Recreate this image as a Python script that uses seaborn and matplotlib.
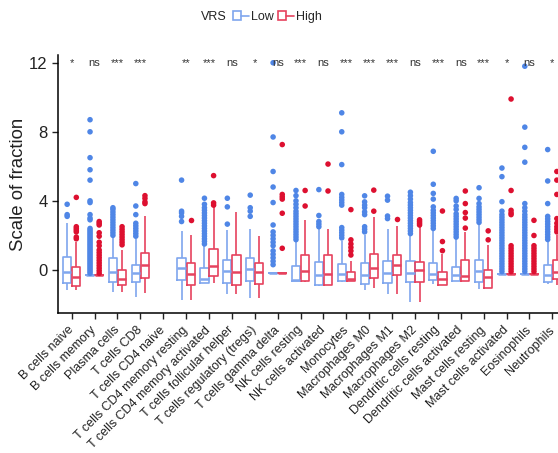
import numpy as np
import pandas as pd
import matplotlib
matplotlib.use("Agg")
import matplotlib.pyplot as plt
from matplotlib.patches import Patch
from matplotlib.lines import Line2D
from matplotlib.legend_handler import HandlerTuple
import seaborn as sns

cells = ["B cells naive", "B cells memory", "Plasma cells", "T cells CD8",
         "T cells CD4 naive", "T cells CD4 memory resting",
         "T cells CD4 memory activated", "T cells follicular helper",
         "T cells regulatory (tregs)", "T cells gamma delta", "NK cells resting",
         "NK cells activated", "Monocytes", "Macrophages M0", "Macrophages M1",
         "Macrophages M2", "Dendritic cells resting", "Dendritic cells activated",
         "Mast cells resting", "Mast cells activated", "Eosinophils", "Neutrophils"]
sig = ["*", "ns", "***", "***", "", "**", "***", "ns", "*", "ns", "***",
       "ns", "***", "***", "***", "ns", "***", "ns", "***", "*", "ns", "*"]

# (lower whisker, q1, median, q3, upper whisker)
low_box = [(-1.19, -0.76, -0.12, 0.76, 2.71), (-0.31, -0.31, -0.31, -0.31, -0.31),
           (-1.29, -0.70, -0.12, 0.66, 1.90), (-1.56, -0.70, -0.21, 0.31, 1.80),
           None, (-1.76, -0.59, 0.08, 0.66, 2.24),
           (-0.74, -0.74, -0.51, 0.12, 1.40), (-1.42, -0.74, -0.06, 0.57, 2.30),
           (-1.62, -0.64, 0.04, 0.66, 2.34), (-0.16, -0.16, -0.16, -0.16, -0.16),
           (-0.64, -0.64, -0.60, 0.25, 1.60), (-0.95, -0.88, -0.29, 0.47, 2.38),
           (-0.70, -0.64, -0.23, 0.33, 1.70), (-1.19, -0.80, -0.29, 0.37, 2.00),
           (-1.39, -0.78, -0.21, 0.49, 2.38), (-1.87, -0.68, -0.16, 0.49, 2.00),
           (-0.84, -0.59, -0.23, 0.39, 2.28), (-0.64, -0.64, -0.31, 0.18, 1.80),
           (-1.09, -0.68, -0.06, 0.59, 2.60), (-0.23, -0.23, -0.23, -0.23, -0.23),
           (-0.23, -0.23, -0.23, -0.23, -0.23), (-0.84, -0.68, -0.29, 0.31, 1.60)]
high_box = [(-1.19, -0.94, -0.43, 0.16, 1.60), (-0.31, -0.31, -0.31, -0.31, -0.31),
            (-1.29, -0.88, -0.51, 0.00, 1.17), (-1.33, -0.49, 0.29, 0.98, 3.10),
            None, (-1.76, -0.88, -0.25, 0.41, 2.03),
            (-0.74, -0.35, 0.20, 1.21, 3.65), (-1.42, -0.88, -0.10, 0.86, 3.36),
            (-1.62, -0.84, -0.12, 0.37, 1.99), (-0.16, -0.16, -0.16, -0.16, -0.16),
            (-0.70, -0.64, -0.08, 0.88, 2.87), (-0.88, -0.88, -0.23, 0.88, 2.38),
            (-0.64, -0.64, -0.55, -0.12, 0.50), (-1.03, -0.49, 0.08, 0.94, 3.06),
            (-1.39, -0.29, 0.29, 0.88, 2.54), (-1.87, -0.70, 0.00, 0.47, 2.48),
            (-0.88, -0.88, -0.55, -0.12, 0.90), (-0.64, -0.64, -0.35, 0.57, 2.19),
            (-1.03, -1.03, -0.41, 0.02, 1.45), (-0.23, -0.23, -0.23, -0.23, -0.23),
            (-0.23, -0.23, -0.23, -0.23, -0.23), (-0.90, -0.55, -0.12, 0.59, 2.00)]

low_out = [
    [3.1, 3.2, 3.8],
    [-0.2, -0.1, 0.0, 0.1, 0.2, 0.3, 0.4, 0.5, 0.6, 0.7, 0.8, 0.9, 1.0, 1.1, 1.2, 1.3,
     1.4, 1.5, 1.6, 1.7, 1.8, 1.9, 2.0, 2.1, 2.2, 2.3, 2.4, 2.9, 3.0, 3.2, 3.9, 4.0,
     5.2, 5.8, 6.5, 8.0, 8.7],
    [2.0, 2.15, 2.3, 2.45, 2.6, 2.75, 2.9, 3.05, 3.2, 3.35, 3.5, 3.6],
    [1.95, 2.1, 2.25, 2.4, 2.55, 2.7, 3.2, 3.7, 5.0],
    [],
    [2.8, 3.1, 3.3, 3.4, 5.2],
    [1.5, 1.65, 1.8, 1.95, 2.1, 2.25, 2.4, 2.55, 2.7, 2.85, 3.0, 3.15, 3.3, 3.45, 3.6,
     3.8, 4.15],
    [2.65, 3.65, 4.15],
    [3.1, 3.4, 3.6, 4.33],
    [0.3, 0.5, 0.7, 0.9, 1.1, 1.4, 1.6, 1.8, 2.0, 2.2, 2.6, 3.9, 4.8, 5.7, 7.7, 12.0],
    [1.75, 1.9, 2.05, 2.2, 2.35, 2.5, 2.65, 2.8, 2.95, 3.1, 3.25, 3.4, 3.6, 3.8, 4.0,
     4.3, 4.6],
    [2.5, 2.65, 2.8, 3.15, 4.65],
    [1.85, 2.0, 2.15, 2.3, 2.45, 3.75, 3.9, 4.05, 4.2, 4.37, 6.1, 8.0, 9.1],
    [2.2, 2.35, 2.5, 3.2, 3.36, 3.6, 3.75, 3.94, 4.29],
    [2.97, 3.12, 4.04, 4.27],
    [2.1, 2.25, 2.4, 2.55, 2.7, 2.85, 3.0, 3.15, 3.3, 3.45, 3.6, 3.75, 3.9, 4.1, 4.3,
     4.5],
    [2.4, 2.55, 2.7, 2.85, 3.0, 3.15, 3.3, 3.45, 3.65, 4.1, 4.43, 4.96, 6.87],
    [1.9, 2.05, 2.2, 2.35, 2.5, 2.65, 2.8, 2.95, 3.1, 3.25, 3.5, 3.7, 4.0, 4.14],
    [2.75, 2.9, 3.05, 3.2, 3.35, 3.5, 3.65, 3.84, 4.14, 4.76],
    [-0.1, 0.05, 0.2, 0.35, 0.5, 0.65, 0.8, 0.95, 1.1, 1.25, 1.4, 1.55, 1.7, 1.85,
     2.0, 2.15, 2.3, 2.45, 2.6, 2.75, 2.9, 3.05, 3.2, 3.4, 3.95, 5.4, 5.9],
    [-0.1, 0.05, 0.2, 0.35, 0.5, 0.65, 0.8, 0.95, 1.1, 1.25, 1.4, 1.55, 1.7, 1.85,
     2.0, 2.15, 2.3, 2.45, 2.6, 2.75, 2.9, 3.05, 3.2, 3.4, 3.6, 3.84, 6.24, 7.1, 8.27,
     11.8],
    [1.76, 1.9, 2.05, 2.2, 2.35, 2.5, 2.65, 2.8, 2.95, 3.1, 3.84, 5.15, 6.97],
]
high_out = [
    [1.8, 1.9, 2.2, 2.3, 2.4, 2.5, 4.2],
    [-0.2, -0.05, 0.1, 0.25, 0.4, 0.55, 0.7, 0.85, 1.0, 1.15, 1.4, 1.6, 1.95, 2.15,
     2.6, 2.7, 2.8],
    [1.45, 1.6, 1.75, 1.9, 2.05, 2.2, 2.35, 2.5],
    [3.84, 3.94, 4.14, 4.3],
    [],
    [2.87],
    [3.75, 3.88, 5.46],
    [],
    [],
    [1.25, 3.28, 4.1, 4.23, 4.37, 7.26],
    [3.7, 4.6],
    [4.57, 6.13],
    [0.86, 1.1, 1.3, 1.5, 1.74, 3.49],
    [3.4, 4.62],
    [2.93],
    [2.6, 2.7, 2.8, 2.9],
    [1.11, 1.64, 3.41],
    [2.42, 3.0, 3.32, 3.84, 4.57],
    [1.74, 2.26],
    [-0.1, 0.05, 0.2, 0.35, 0.5, 0.65, 0.8, 0.95, 1.1, 1.25, 1.4, 3.2, 3.3, 3.45,
     4.6, 9.9],
    [-0.1, 0.05, 0.2, 0.35, 0.5, 0.65, 0.8, 0.95, 1.1, 1.25, 1.4, 1.99, 2.87],
    [2.2, 2.35, 2.5, 2.7, 2.97, 4.37, 5.2, 5.7],
]

groups = ["Low", "High"]
box_colors = {"Low": "#7FA6EE", "High": "#E6425E"}
dot_colors = {"Low": "#4F86E6", "High": "#DD1030"}

# long tables for seaborn
box_rows, pt_rows = [], []
for grp, boxes, outs in [("Low", low_box, low_out), ("High", high_box, high_out)]:
    for cell, b, o in zip(cells, boxes, outs):
        if b is not None:
            for v in b:
                box_rows.append({"cell": cell, "VRS": grp, "value": v})
        for v in o:
            pt_rows.append({"cell": cell, "VRS": grp, "value": v})
box_df = pd.DataFrame(box_rows)
pt_df = pd.DataFrame(pt_rows)

sns.set_style("ticks")
plt.rcParams["font.family"] = ["Liberation Sans", "DejaVu Sans"]

fig = plt.figure(figsize=(5.58, 4.53), dpi=100)
ax = fig.add_axes([58 / 558, 1 - 313 / 453, 508 / 558, (313 - 55) / 453])

sns.boxplot(data=box_df, x="cell", y="value", hue="VRS", order=cells,
            hue_order=groups, palette=box_colors, fill=False, whis=np.inf,
            width=0.8, gap=0.1, linewidth=1.2, showcaps=False,
            medianprops={"linewidth": 1.8}, legend=False, ax=ax)
sns.stripplot(data=pt_df, x="cell", y="value", hue="VRS", order=cells,
              hue_order=groups, palette=dot_colors, dodge=True, jitter=False,
              size=4, linewidth=0, legend=False, ax=ax)

for i, s in enumerate(sig):
    if s:
        ax.text(i, 12.0, s, ha="center", va="center", fontsize=8, color="#333333")

ax.set_xlim(-0.6, 21.6)
ax.set_ylim(-2.5, 12.45)
ax.set_yticks([0, 4, 8, 12])
ax.tick_params(axis="y", labelsize=12, length=4, width=1, colors="#222222")
ax.tick_params(axis="x", length=4, width=1, pad=7, colors="#222222")
ax.set_xticks(range(len(cells)))
ax.set_xticklabels(cells, rotation=45, ha="right", va="center",
                   rotation_mode="anchor", fontsize=9, color="#222222")
ax.set_xlabel("")
ax.set_ylabel("Scale of fraction", fontsize=13.4, color="#222222")
ax.yaxis.set_label_coords(-31 / 508, 0.5)
for sp in ["top", "right"]:
    ax.spines[sp].set_visible(False)
for sp in ["left", "bottom"]:
    ax.spines[sp].set_color("black")
    ax.spines[sp].set_linewidth(1.1)

handles = [(Patch(facecolor="white", edgecolor=box_colors[g], linewidth=1.2),
            Line2D([0], [0], color=box_colors[g], linewidth=1.2)) for g in groups]
fig.text(227 / 558, 1 - 17 / 453, "VRS", ha="right", va="center", fontsize=9,
         color="#222222")
fig.legend(handles, groups, handler_map={tuple: HandlerTuple(ndivide=None)},
           loc="center left", bbox_to_anchor=(233 / 558, 1 - 17 / 453), ncol=2,
           frameon=False, fontsize=9, handlelength=1.3, handletextpad=0.15,
           columnspacing=0.3, borderpad=0, borderaxespad=0)

fig.savefig("out.png", dpi=100)
